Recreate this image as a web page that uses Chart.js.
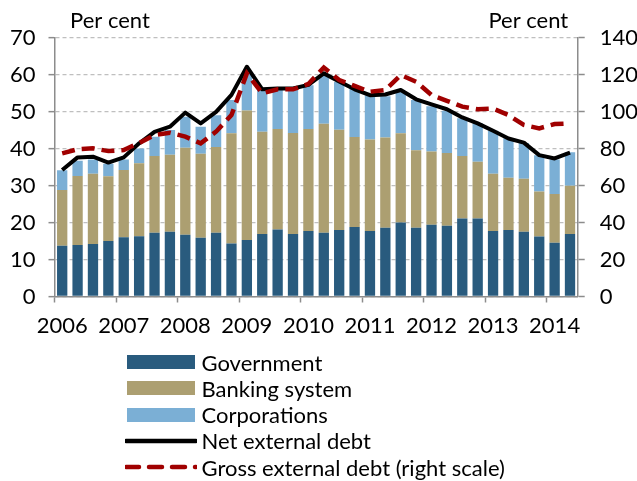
<!DOCTYPE html>
<html>
<head>
<meta charset="utf-8">
<script src="https://cdn.jsdelivr.net/npm/chart.js@4/dist/chart.umd.min.js"></script>
<style>
  html, body { margin: 0; padding: 0; background: #fff; }
  #wrap { position: relative; width: 637px; height: 481px; }
  canvas { position: absolute; left: 0; top: 0; }
  #legend { position: absolute; left: 126.5px; top: 349px; font-family: Lato, sans-serif; font-size: 22px; color: #000; }
  .row { display: flex; align-items: center; height: 26.25px; white-space: nowrap; }
  .sw { width: 68px; margin-right: 7px; flex: none; display: block; }
</style>
</head>
<body>
<div id="wrap">
  <canvas id="c" width="637" height="481"></canvas>
  <div id="legend"></div>
</div>
<script>
// Quarterly observations, 2006 Q1 – 2014 Q2
const quarters = [
  '2006 Q1','2006 Q2','2006 Q3','2006 Q4',
  '2007 Q1','2007 Q2','2007 Q3','2007 Q4',
  '2008 Q1','2008 Q2','2008 Q3','2008 Q4',
  '2009 Q1','2009 Q2','2009 Q3','2009 Q4',
  '2010 Q1','2010 Q2','2010 Q3','2010 Q4',
  '2011 Q1','2011 Q2','2011 Q3','2011 Q4',
  '2012 Q1','2012 Q2','2012 Q3','2012 Q4',
  '2013 Q1','2013 Q2','2013 Q3','2013 Q4',
  '2014 Q1','2014 Q2'
];

// External debt by sector, per cent of GDP (left scale)
const government = [
  13.7, 13.9, 14.2, 15.0, 16.0, 16.3, 17.2, 17.5, 16.7, 15.9, 17.2, 14.3,
  15.3, 16.9, 18.1, 16.9, 17.7, 17.2, 18.0, 18.8, 17.7, 18.6, 20.0, 18.6,
  19.4, 19.1, 21.1, 21.1, 17.7, 18.0, 17.5, 16.2, 14.5, 16.9
];
const bankingSystem = [
  15.1, 18.7, 19.0, 17.5, 18.2, 19.7, 20.8, 20.8, 23.5, 22.7, 23.2, 29.8,
  35.0, 27.6, 27.2, 27.3, 27.6, 29.5, 27.1, 24.3, 24.7, 24.4, 24.1, 20.9,
  19.8, 19.7, 16.9, 15.3, 15.5, 14.1, 14.3, 12.2, 13.2, 13.0
];
const corporations = [
  5.3, 4.1, 3.8, 3.4, 2.8, 4.0, 5.2, 6.7, 8.4, 7.3, 8.6, 9.0,
  10.0, 11.3, 10.5, 11.6, 11.8, 13.1, 12.9, 13.1, 12.0, 11.1, 11.2, 13.6,
  12.2, 11.4, 10.2, 10.4, 11.6, 10.7, 9.7, 9.8, 9.3, 9.1
];
const netExternalDebt = [
  34.2, 37.6, 37.8, 36.2, 37.6, 41.4, 44.5, 45.9, 49.7, 46.8, 49.9, 54.5,
  62.1, 56.0, 56.2, 56.2, 57.2, 60.3, 58.1, 56.0, 54.4, 54.6, 55.8, 53.3,
  51.9, 50.6, 48.4, 46.8, 44.8, 42.7, 41.6, 38.2, 37.3, 38.9
];
// Gross external debt, per cent of GDP (right scale)
const grossExternalDebt = [
  77.4, 79.6, 80.1, 78.6, 79.2, 83.0, 87.3, 88.5, 86.4, 82.8, 89.1, 98.1,
  120.6, 109.8, 112.0, 112.0, 114.9, 123.8, 117.0, 113.8, 110.7, 111.6, 119.7, 116.1,
  108.9, 105.8, 102.6, 101.2, 101.6, 98.1, 92.7, 90.9, 93.2, 93.6
];

const leftTicks = { min: 0, max: 70, step: 10 };
const rightTicks = { min: 0, max: 140, step: 20 };

const FONT = 'Lato, sans-serif';
const FONT_SIZE = 22;
const AXIS = '#8c8c8c';
const GRID = '#bfbfbf';

// Unit captions above both value axes
const unitCaptions = {
  id: 'unitCaptions',
  afterDraw(chart) {
    const { ctx, chartArea } = chart;
    ctx.save();
    ctx.font = FONT_SIZE + 'px ' + FONT;
    ctx.fillStyle = '#000';
    ctx.textBaseline = 'middle';
    ctx.textAlign = 'left';
    ctx.fillText('Per cent', chartArea.left + 15.5, chartArea.top - 17);
    ctx.textAlign = 'right';
    ctx.fillText('Per cent', chartArea.right - 9.5, chartArea.top - 17);
    ctx.restore();
  }
};

const barCommon = { type: 'bar', yAxisID: 'y', stack: 'debt', order: 2,
  barPercentage: 0.67, categoryPercentage: 1.0, borderWidth: 0 };

const chart = new Chart(document.getElementById('c'), {
  data: {
    labels: quarters,
    datasets: [
      { ...barCommon, label: 'Government', data: government, backgroundColor: '#295b7e' },
      { ...barCommon, label: 'Banking system', data: bankingSystem, backgroundColor: '#ac9f71' },
      { ...barCommon, label: 'Corporations', data: corporations, backgroundColor: '#7bafd5' },
      { type: 'line', label: 'Net external debt', data: netExternalDebt, yAxisID: 'y', order: 1,
        borderColor: '#000', borderWidth: 4, pointRadius: 0, tension: 0, borderJoinStyle: 'round', fill: false },
      { type: 'line', label: 'Gross external debt (right scale)', data: grossExternalDebt, yAxisID: 'y2', order: 0,
        borderColor: '#a00000', borderWidth: 4.5, borderDash: [13, 7], pointRadius: 0, tension: 0, fill: false }
    ]
  },
  options: {
    responsive: false,
    animation: false,
    layout: { padding: { left: 0, right: 0, top: 37.5, bottom: 139.5 } },
    plugins: { legend: { display: false }, tooltip: { enabled: false } },
    scales: {
      x: {
        type: 'category',
        offset: true,
        grid: {
          offset: true,
          drawOnChartArea: false,
          drawTicks: true,
          tickLength: 6,
          tickWidth: 1.5,
          tickColor: (c) => (c.index % 4 === 0 ? AXIS : 'rgba(0,0,0,0)')
        },
        border: { display: true, color: AXIS, width: 1.5 },
        ticks: {
          autoSkip: false, maxRotation: 0, minRotation: 0, padding: 10,
          color: '#000', font: { family: FONT, size: FONT_SIZE },
          callback: (v, i) => (i % 4 === 0 ? quarters[i].slice(0, 4) : '')
        },
        afterFit: (s) => { s.height = 45; }
      },
      y: {
        position: 'left',
        min: leftTicks.min, max: leftTicks.max,
        ticks: { stepSize: leftTicks.step, padding: 13, color: '#000', font: { family: FONT, size: FONT_SIZE } },
        grid: { color: GRID, lineWidth: 1.3, tickColor: AXIS, tickLength: 6, tickWidth: 1.5 },
        border: { display: true, color: AXIS, width: 1.5, dash: [4, 3] },
        afterFit: (s) => { s.width = 54.5; }
      },
      y2: {
        position: 'right',
        min: rightTicks.min, max: rightTicks.max,
        ticks: { stepSize: rightTicks.step, padding: 15, color: '#000', font: { family: FONT, size: FONT_SIZE } },
        grid: { drawOnChartArea: false, tickColor: AXIS, tickLength: 7, tickWidth: 1.5 },
        border: { display: true, color: AXIS, width: 1.5 },
        afterFit: (s) => { s.width = 59.3; }
      }
    }
  },
  plugins: [unitCaptions]
});

// Legend built from the chart's datasets
const legend = document.getElementById('legend');
chart.data.datasets.forEach((ds) => {
  const row = document.createElement('div');
  row.className = 'row';
  let sw;
  if (ds.type === 'bar') {
    sw = document.createElement('span');
    sw.className = 'sw';
    sw.style.height = '14px';
    sw.style.background = ds.backgroundColor;
  } else {
    sw = document.createElementNS('http://www.w3.org/2000/svg', 'svg');
    sw.setAttribute('class', 'sw');
    sw.setAttribute('width', '72');
    sw.setAttribute('height', '8');
    sw.style.width = '72px';
    sw.style.marginLeft = '-2px';
    sw.style.marginRight = '5px';
    const ln = document.createElementNS('http://www.w3.org/2000/svg', 'line');
    ln.setAttribute('x1', '1'); ln.setAttribute('x2', '71');
    ln.setAttribute('y1', '4'); ln.setAttribute('y2', '4');
    ln.setAttribute('stroke', ds.borderColor);
    ln.setAttribute('stroke-width', '4.5');
    ln.setAttribute('stroke-linecap', 'round');
    if (ds.borderDash) ln.setAttribute('stroke-dasharray', '13 10');
    sw.appendChild(ln);
  }
  const txt = document.createElement('span');
  txt.textContent = ds.label;
  row.appendChild(sw);
  row.appendChild(txt);
  legend.appendChild(row);
});
</script>
</body>
</html>
